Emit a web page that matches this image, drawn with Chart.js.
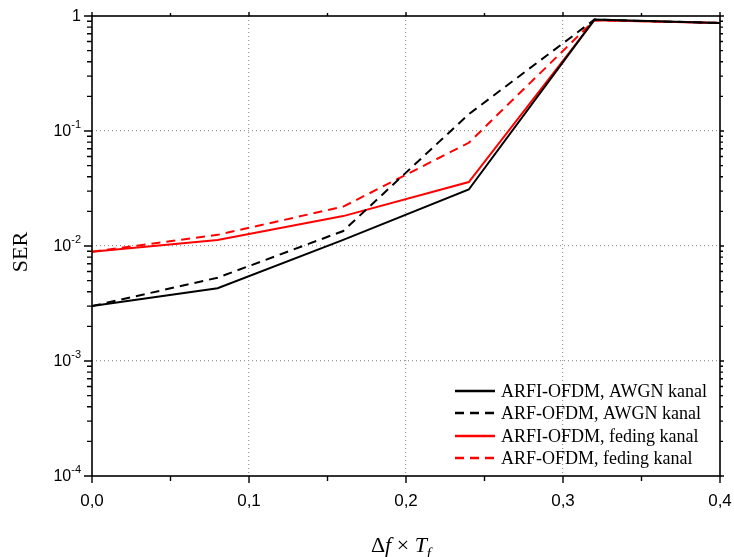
<!DOCTYPE html>
<html>
<head>
<meta charset="utf-8">
<script src="https://cdn.jsdelivr.net/npm/chart.js@4/dist/chart.umd.min.js"></script>
<style>
  body { margin: 0; background: #fff; }
  #wrap { width: 734px; height: 557px; }
</style>
</head>
<body>
<div id="wrap"><canvas id="serChart" width="734" height="557"></canvas></div>
<script>
// x values (delta f * T_f)
const xValues = [0, 0.08, 0.16, 0.24, 0.32, 0.4];
// SER series
const arfiAwgn = [0.0030, 0.0043, 0.0113, 0.031, 0.93, 0.87];
const arfAwgn = [0.0030, 0.0053, 0.0135, 0.14, 0.93, 0.87];
const arfiFeding = [0.0089, 0.0113, 0.0182, 0.036, 0.92, 0.87];
const arfFeding = [0.0089, 0.0125, 0.022, 0.079, 0.92, 0.87];
const seriesLabels = ['ARFI-OFDM, AWGN kanal', 'ARF-OFDM, AWGN kanal', 'ARFI-OFDM, feding kanal', 'ARF-OFDM, feding kanal'];
// axis ticks
const xTicks = [0, 0.1, 0.2, 0.3, 0.4];
const yTicks = [1e-4, 1e-3, 1e-2, 1e-1, 1];
const yTickLabels = [['10', '-4'], ['10', '-3'], ['10', '-2'], ['10', '-1'], ['1', '']];
const xTitle = ['\u0394', 'f', ' \u00d7 ', 'T', 'f'];
const yTitle = 'SER';

function pts(ys) {
    return xValues.map((x, i) => ({ x: x, y: ys[i] }));
}

const series = [
    { label: seriesLabels[0], data: pts(arfiAwgn), color: '#000000', dash: [] },
    { label: seriesLabels[1], data: pts(arfAwgn), color: '#000000', dash: [9, 6] },
    { label: seriesLabels[2], data: pts(arfiFeding), color: '#ff0000', dash: [] },
    { label: seriesLabels[3], data: pts(arfFeding), color: '#ff0000', dash: [9, 6] }
];

// frame, ticks, superscript labels, titles and legend
const decorPlugin = {
    id: 'decor',
    afterDraw(chart) {
        const ctx = chart.ctx;
        const a = chart.chartArea;
        const xs = chart.scales.x;
        const ys = chart.scales.y;
        ctx.save();
        ctx.strokeStyle = '#000';
        ctx.lineWidth = 1.6;
        ctx.setLineDash([]);
        ctx.strokeRect(a.left, a.top, a.right - a.left, a.bottom - a.top);

        // x ticks every 0.05
        ctx.lineWidth = 1.4;
        ctx.beginPath();
        for (let i = 0; i <= 8; i++) {
            const px = xs.getPixelForValue(i * 0.05);
            const major = i % 2 === 0;
            ctx.moveTo(px, a.bottom);
            ctx.lineTo(px, a.bottom + (major ? 7 : 5));
            ctx.moveTo(px, a.top);
            ctx.lineTo(px, a.top - (major ? 4 : 3));
        }
        // y ticks, decades and minors
        for (let e = -4; e <= 0; e++) {
            for (let m = 1; m <= 9; m++) {
                const v = m * Math.pow(10, e);
                if (v > 1) break;
                const py = ys.getPixelForValue(v);
                const major = m === 1;
                ctx.moveTo(a.left, py);
                ctx.lineTo(a.left - (major ? 8 : 5), py);
                ctx.moveTo(a.right, py);
                ctx.lineTo(a.right + (major ? 4 : 3), py);
            }
        }
        ctx.stroke();

        // y tick labels with superscripts
        ctx.fillStyle = '#000';
        ctx.textBaseline = 'middle';
        yTicks.forEach((v, i) => {
            const py = ys.getPixelForValue(v);
            const base = yTickLabels[i][0];
            const sup = yTickLabels[i][1];
            ctx.font = '11px "Liberation Sans", Arial, sans-serif';
            const supW = ctx.measureText(sup).width;
            const right = 81;
            ctx.textAlign = 'right';
            if (sup) {
                ctx.fillText(sup, right, py - 6);
            }
            ctx.font = '16px "Liberation Sans", Arial, sans-serif';
            ctx.fillText(base, right - supW, py + 1);
        });

        // y title
        ctx.save();
        ctx.translate(21, 252);
        ctx.rotate(-Math.PI / 2);
        ctx.textAlign = 'center';
        ctx.font = '22px "Liberation Serif", "Times New Roman", serif';
        ctx.fillText(yTitle, 0, 0);
        ctx.restore();

        // x title
        ctx.textAlign = 'left';
        ctx.textBaseline = 'alphabetic';
        const fonts = ['22px "Liberation Serif", serif', 'italic 22px "Liberation Serif", serif',
            '22px "Liberation Serif", serif', 'italic 22px "Liberation Serif", serif',
            'italic 15px "Liberation Serif", serif'];
        const offs = [0, 0, 0, 0, 6];
        let w = 0;
        xTitle.forEach((t, i) => { ctx.font = fonts[i]; w += ctx.measureText(t).width; });
        let cx = 401 - w / 2;
        xTitle.forEach((t, i) => {
            ctx.font = fonts[i];
            ctx.fillText(t, cx, 552 + offs[i]);
            cx += ctx.measureText(t).width;
        });

        // legend
        const rows = [391, 413, 436, 458];
        ctx.font = '18px "Liberation Serif", "Times New Roman", serif';
        ctx.textBaseline = 'middle';
        chart.data.datasets.forEach((ds, i) => {
            const y = rows[i];
            ctx.strokeStyle = ds.borderColor;
            ctx.lineWidth = 2.4;
            ctx.setLineDash(ds.borderDash);
            ctx.beginPath();
            ctx.moveTo(455, y);
            ctx.lineTo(495, y);
            ctx.stroke();
            ctx.setLineDash([]);
            ctx.fillStyle = '#000';
            ctx.fillText(ds.label, 501, y + 1);
        });
        ctx.restore();
    }
};

const ctx = document.getElementById('serChart').getContext('2d');
new Chart(ctx, {
    type: 'line',
    data: {
        datasets: series.map(s => ({
            label: s.label,
            data: s.data,
            borderColor: s.color,
            borderDash: s.dash,
            borderWidth: 2,
            pointRadius: 0,
            tension: 0,
            fill: false
        }))
    },
    options: {
        responsive: false,
        animation: false,
        layout: { padding: { top: 16, right: 14, left: 0, bottom: 0 } },
        plugins: {
            legend: { display: false },
            tooltip: { enabled: false }
        },
        scales: {
            x: {
                type: 'linear',
                min: 0,
                max: 0.4,
                afterBuildTicks: s => { s.ticks = xTicks.map(v => ({ value: v })); },
                afterFit: s => {
                    s.height = 81;
                    s.paddingLeft = 0;
                    s.paddingRight = 0;
                },
                ticks: {
                    color: '#000',
                    padding: 15,
                    maxRotation: 0,
                    font: { family: '"Liberation Sans", Arial, sans-serif', size: 17 },
                    callback: v => v.toFixed(1).replace('.', ',')
                },
                // dotted grid lines
                border: { display: false, dash: [1, 3] },
                grid: {
                    drawTicks: false,
                    color: c => (c.tick && c.tick.value > 0 && c.tick.value < 0.4) ? '#999999' : 'rgba(0,0,0,0)',
                    lineWidth: 1.2
                }
            },
            y: {
                type: 'logarithmic',
                min: 1e-4,
                max: 1,
                afterBuildTicks: s => { s.ticks = yTicks.map(v => ({ value: v })); },
                afterFit: s => { s.width = 92; },
                ticks: { display: false },
                border: { display: false, dash: [1, 3] },
                grid: {
                    drawTicks: false,
                    color: c => (c.tick && c.tick.value > 1e-4 && c.tick.value < 1) ? '#999999' : 'rgba(0,0,0,0)',
                    lineWidth: 1.2
                }
            }
        }
    },
    plugins: [decorPlugin]
});
</script>
</body>
</html>
